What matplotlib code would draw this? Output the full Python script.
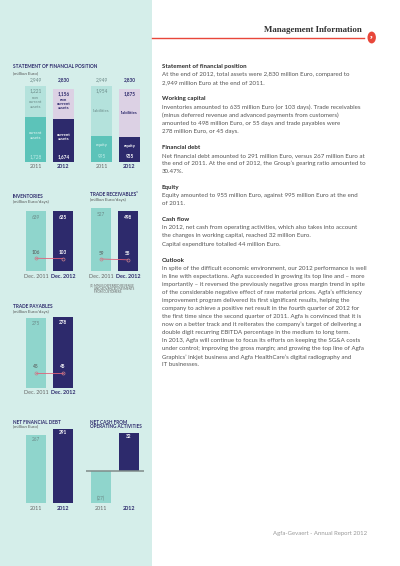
import matplotlib.pyplot as plt
import numpy as np
from matplotlib.patches import Rectangle, Circle

W, H = 400, 566

# ---- data ----
years = ['2011', '2012']
dec_years = ['Dec. 2011', 'Dec. 2012']
non_current_assets = [1221, 1156]
current_assets = [1728, 1674]
liabilities = [1954, 1875]
equity = [995, 955]
totals = [2949, 2830]
inventories = [639, 635]
inventory_days = [106, 103]
receivables = [527, 498]
receivable_days = [59, 55]
payables = [275, 278]
payable_days = [45, 45]
net_fin_debt = [267, 291]
net_cash_ops = [-27, 32]

BG = '#d5eeea'
TEAL = '#8fd5cc'
NAVY = '#2d2a6c'
PALE_TEAL = '#b4e2dc'
MID_TEAL = '#5cc3b9'
LILAC = '#dcd1e4'
GREY = '#6b8a88'
RED = '#e8473a'
LINE = '#e0607a'
FONT = 'Lato'

fig = plt.figure(figsize=(4, 5.66), dpi=100)
fig.patch.set_facecolor('white')
fig.patches.append(Rectangle((0, 0), 152 / W, 1, transform=fig.transFigure,
                             facecolor=BG, edgecolor='none', zorder=-5))


def ftext(x, y, s, **kw):
    kw.setdefault('family', FONT)
    kw.setdefault('va', 'center')
    fig.text(x / W, 1 - y / H, s, **kw)


def make_ax(left, bw, pitch, top, bottom, ylim):
    pad = 5
    x0, x1 = left - pad, left + pitch + bw + pad
    ax = fig.add_axes([x0 / W, 1 - bottom / H, (x1 - x0) / W, (bottom - top) / H])
    half = (pad + bw / 2) / pitch
    ax.set_xlim(-half, 1 + half)
    ax.set_ylim(*ylim)
    ax.axis('off')
    return ax, bw / pitch


def lab(ax, x, y, s, dy, color, bold=False, size=3.4, **kw):
    ax.annotate(s, (x, y), xytext=(0, dy), textcoords='offset pixels',
                ha='center', va='center', fontsize=size, color=color,
                fontweight='bold' if bold else 'normal', family=FONT,
                annotation_clip=False, **kw)


def year_labels(ax, labels, y_px):
    for i, t in enumerate(labels):
        xf = ax.transData.transform((i, 0))[0] / fig.dpi / 4 * W
        ftext(xf, y_px, t, ha='center', fontsize=3.9,
              color=NAVY if i == 1 else '#666666',
              fontweight='bold' if i == 1 else 'normal')


x = np.arange(2)

# ---- statement of financial position ----
ftext(13, 67, 'STATEMENT OF FINANCIAL POSITION', fontsize=3.4, fontweight='bold', color=NAVY)
ftext(13, 73, '(million Euro)', fontsize=3.2, color='#555555')

axA, w = make_ax(25, 21, 28, 86, 162, (0, max(totals)))
axA.bar(x, current_assets, w, color=[MID_TEAL, NAVY])
axA.bar(x, non_current_assets, w, bottom=current_assets, color=[PALE_TEAL, LILAC])
axL, w = make_ax(91, 21, 28, 86, 162, (0, max(totals)))
axL.bar(x, equity, w, color=[MID_TEAL, NAVY])
axL.bar(x, liabilities, w, bottom=equity, color=[PALE_TEAL, LILAC])

for ax, low, high, low_name, high_name in [
        (axA, current_assets, non_current_assets, 'current\nassets', 'non\ncurrent\nassets'),
        (axL, equity, liabilities, 'equity', 'liabilities')]:
    for i in range(2):
        b = i == 1
        top = low[i] + high[i]
        lab(ax, i, max(totals), f'{totals[i]:,}', 6, NAVY if b else GREY, b)
        lab(ax, i, top, f'{high[i]:,}', -5, NAVY if b else GREY, b)
        lab(ax, i, 0, f'{low[i]:,}', 5, 'white' if b else '#bfeee8', b)
        if high_name.startswith('non'):
            lab(ax, i, low[i], high_name, 15, NAVY if b else GREY, b,
                size=3.1, linespacing=1.1)
            lab(ax, i, low[i], low_name, -18, 'white' if b else '#e6f7f4', b,
                size=3.1, linespacing=1.2)
        else:
            lab(ax, i, low[i] + high[i] / 2, high_name, 0, NAVY if b else GREY, b, size=3.1)
            lab(ax, i, low[i], low_name, -9, 'white' if b else '#e6f7f4', b, size=3.1)
    year_labels(ax, years, 166)


# ---- working capital charts ----
def wc_chart(left, top, bottom, values, days, days_max):
    ax, w = make_ax(left, 20, 27, top, bottom, (0, max(values)))
    ax.bar(x, values, w, color=[TEAL, NAVY])
    for i in range(2):
        lab(ax, i, values[i], f'{values[i]:,}', -6, GREY if i == 0 else 'white', i == 1)
    ax2 = ax.twinx()
    ax2.set_ylim(0, days_max)
    ax2.axis('off')
    ax2.plot(x, days, color=LINE, lw=0.6, marker='o', ms=2.2,
             mfc='none', mec='#c9808c', mew=0.5)
    for i in range(2):
        lab(ax2, i, days[i], str(days[i]), 6, '#555555' if i == 0 else 'white', i == 1)
    return ax


ftext(13, 197, 'INVENTORIES', fontsize=3.4, fontweight='bold', color=NAVY)
ftext(13, 202, '(million Euro/days)', fontsize=3.2, color='#555555')
ax = wc_chart(26, 211, 271, inventories, inventory_days, 500)
year_labels(ax, dec_years, 276)

ftext(90, 195, 'TRADE RECEIVABLES\u00b9', fontsize=3.4, fontweight='bold', color=NAVY)
ftext(90, 200, '(million Euro/days)', fontsize=3.2, color='#555555')
ax = wc_chart(91, 208, 271, receivables, receivable_days, 310)
year_labels(ax, dec_years, 276)
ftext(90, 285, '(1) MINUS DEFERRED REVENUE', fontsize=2.2, color='#666666')
ftext(94, 288.5, 'AND ADVANCED PAYMENTS', fontsize=2.2, color='#666666')
ftext(94, 292, 'FROM CUSTOMERS', fontsize=2.2, color='#666666')

ftext(13, 307, 'TRADE PAYABLES', fontsize=3.4, fontweight='bold', color=NAVY)
ftext(13, 312, '(million Euro/days)', fontsize=3.2, color='#555555')
ax = wc_chart(26, 317, 388, payables, payable_days, 213)
year_labels(ax, dec_years, 393)

# ---- net financial debt ----
ftext(13, 422, 'NET FINANCIAL DEBT', fontsize=3.3, fontweight='bold', color=NAVY)
ftext(13, 426.5, '(million Euro)', fontsize=3.2, color='#555555')
ax, w = make_ax(26, 20, 27, 429, 503, (0, max(net_fin_debt)))
ax.bar(x, net_fin_debt, w, color=[TEAL, NAVY])
for i in range(2):
    lab(ax, i, net_fin_debt[i], str(net_fin_debt[i]), -4, GREY if i == 0 else 'white', i == 1)
year_labels(ax, years, 508)

# ---- net cash from operating activities ----
ftext(90, 422, 'NET CASH FROM', fontsize=3.3, fontweight='bold', color=NAVY)
ftext(90, 427, 'OPERATING ACTIVITIES', fontsize=3.3, fontweight='bold', color=NAVY)
ax, w = make_ax(91, 20, 28, 433, 503, (min(net_cash_ops), max(net_cash_ops)))
ax.bar(x, net_cash_ops, w, color=[TEAL, NAVY], zorder=2)
ax.axhline(0, color='#7f8c8a', lw=1.1, zorder=3)
for i, v in enumerate(net_cash_ops):
    s = f'({abs(v)})' if v < 0 else str(v)
    lab(ax, i, v, s, 5 if v < 0 else -4, GREY if i == 0 else 'white', i == 1)
year_labels(ax, years, 508)

# ---- header ----
ftext(362, 30, 'Management Information', ha='right', fontsize=6.4, fontweight='bold',
      family='Liberation Serif', color='#333333')
fig.add_artist(plt.Line2D([152 / W, 364 / W], [1 - 38 / H, 1 - 38 / H],
                          color=RED, lw=1.0, transform=fig.transFigure))
fig.patches.append(Circle((371.7 / W, 1 - 37.5 / H), 4.2 / W, transform=fig.transFigure,
                          facecolor=RED, edgecolor='none'))
ftext(371.7, 37.8, '39', ha='center', fontsize=2.2, color='white', fontweight='bold')

# ---- body text ----
paragraphs = [
    ('Statement of financial position', [
        'At the end of 2012, total assets were 2,830 million Euro, compared to',
        '2,949 million Euro at the end of 2011.']),
    ('Working capital', [
        'Inventories amounted to 635 million Euro (or 103 days). Trade receivables',
        '(minus deferred revenue and advanced payments from customers)',
        'amounted to 498 million Euro, or 55 days and trade payables were',
        '278 million Euro, or 45 days.']),
    ('Financial debt', [
        'Net financial debt amounted to 291 million Euro, versus 267 million Euro at',
        'the end of 2011. At the end of 2012, the Group\u2019s gearing ratio amounted to',
        '30.47%.']),
    ('Equity', [
        'Equity amounted to 955 million Euro, against 995 million Euro at the end',
        'of 2011.']),
    ('Cash flow', [
        'In 2012, net cash from operating activities, which also takes into account',
        'the changes in working capital, reached 32 million Euro.',
        'Capital expenditure totalled 44 million Euro.']),
    ('Outlook', [
        'In spite of the difficult economic environment, our 2012 performance is well',
        'in line with expectations. Agfa succeeded in growing its top line and \u2013 more',
        'importantly \u2013 it reversed the previously negative gross margin trend in spite',
        'of the considerable negative effect of raw material prices. Agfa\u2019s efficiency',
        'improvement program delivered its first significant results, helping the',
        'company to achieve a positive net result in the fourth quarter of 2012 for',
        'the first time since the second quarter of 2011. Agfa is convinced that it is',
        'now on a better track and it reiterates the company\u2019s target of delivering a',
        'double digit recurring EBITDA percentage in the medium to long term.',
        'In 2013, Agfa will continue to focus its efforts on keeping the SG&A costs',
        'under control; improving the gross margin; and growing the top line of Agfa',
        'Graphics\u2019 inkjet business and Agfa HealthCare\u2019s digital radiography and',
        'IT businesses.']),
]
y = 66.7
step = 8.06
for head, lines in paragraphs:
    ftext(162, y, head, fontsize=4.4, fontweight='bold', color='#2a2a2a')
    for ln in lines:
        y += step
        ftext(162, y, ln, fontsize=4.4, color='#555555')
    y += 2 * step

ftext(367, 534, 'Agfa-Gevaert - Annual Report 2012', ha='right', fontsize=4.3, color='#999999')

fig.savefig('out.png', dpi=100, facecolor=fig.get_facecolor())
